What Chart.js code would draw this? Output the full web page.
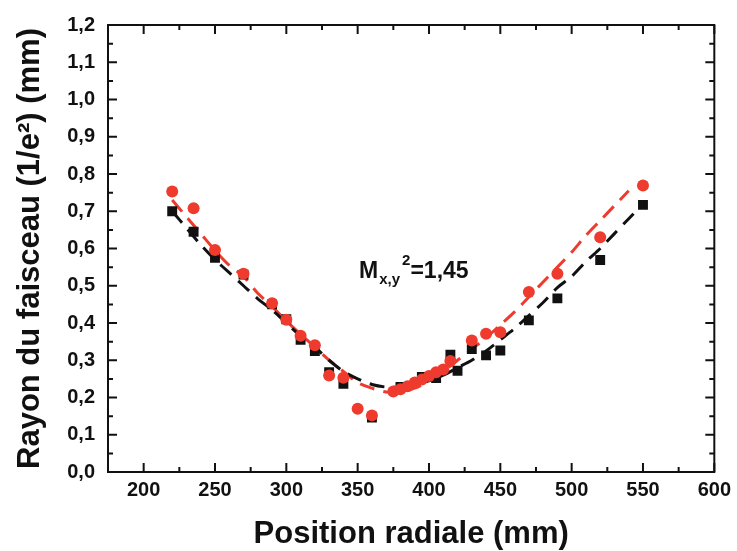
<!DOCTYPE html>
<html>
<head>
<meta charset="utf-8">
<script src="https://cdn.jsdelivr.net/npm/chart.js@4.4.0/dist/chart.umd.min.js"></script>
<style>
    html, body { margin: 0; padding: 0; background: #ffffff; }
    canvas { display: block; }
</style>
</head>
<body>
<canvas id="beamChart" width="737" height="551"></canvas>
<script>
// Measured points (black squares)
const posBlack = [220, 235, 250, 270, 290, 300, 310, 320, 330, 340, 360, 380, 395, 405, 415, 420, 430, 440, 450, 470, 490, 520, 550];
const rayonBlack = [0.70, 0.645, 0.575, 0.53, 0.45, 0.41, 0.355, 0.325, 0.268, 0.237, 0.146, 0.228, 0.255, 0.252, 0.315, 0.272, 0.330, 0.313, 0.326, 0.407, 0.466, 0.569, 0.717];

// Measured points (red circles)
const posRed = [220, 235, 250, 270, 290, 300, 310, 320, 330, 340, 350, 360, 375, 380, 385, 390, 395, 400, 405, 410, 415, 430, 440, 450, 470, 490, 520, 550];
const rayonRed = [0.753, 0.708, 0.596, 0.532, 0.453, 0.409, 0.366, 0.340, 0.259, 0.253, 0.170, 0.152, 0.216, 0.222, 0.230, 0.240, 0.248, 0.258, 0.268, 0.275, 0.298, 0.353, 0.371, 0.375, 0.483, 0.532, 0.630, 0.769];

// Fit curves
const fitBlackPos = [220, 230, 240, 250, 260, 270, 280, 290, 300, 310, 320, 330, 340, 350, 360, 370, 380, 390, 400, 410, 420, 430, 440, 450, 460, 470, 480, 490, 500, 510, 520, 530, 540, 550];
const fitBlackRayon = [0.70, 0.655, 0.61, 0.57, 0.535, 0.50, 0.465, 0.435, 0.40, 0.365, 0.335, 0.30, 0.27, 0.25, 0.235, 0.228, 0.228, 0.235, 0.245, 0.26, 0.28, 0.30, 0.325, 0.355, 0.385, 0.42, 0.455, 0.495, 0.525, 0.565, 0.60, 0.64, 0.68, 0.72];
const fitRedPos = [220, 230, 240, 250, 260, 270, 280, 290, 300, 310, 320, 330, 340, 350, 360, 370, 380, 390, 400, 410, 420, 430, 440, 450, 460, 470, 480, 490, 500, 510, 520, 530, 540];
const fitRedRayon = [0.73, 0.685, 0.64, 0.595, 0.555, 0.525, 0.48, 0.445, 0.405, 0.37, 0.335, 0.30, 0.27, 0.24, 0.225, 0.215, 0.215, 0.225, 0.245, 0.27, 0.30, 0.33, 0.36, 0.395, 0.43, 0.47, 0.51, 0.55, 0.59, 0.635, 0.675, 0.715, 0.755];

// Axis ticks
const xTickValues = [200, 250, 300, 350, 400, 450, 500, 550, 600];
const yTickValues = [0, 0.1, 0.2, 0.3, 0.4, 0.5, 0.6, 0.7, 0.8, 0.9, 1.0, 1.1, 1.2];

const RED = '#ee3b2e';
const BLACK = '#111111';

Chart.defaults.font.family = '"Liberation Sans", Arial, sans-serif';

function toPoints(xs, ys) {
    return xs.map((x, i) => ({ x: x, y: ys[i] }));
}

// Midpoints between major ticks, for the minor tick marks
function minorValues(majors, min, max) {
    const step = majors[1] - majors[0];
    const out = [];
    for (let v = majors[0] - step / 2; v <= max + 1e-9; v += step) {
        if (v >= min - 1e-9) out.push(v);
    }
    return out;
}

// Frame, inward ticks on all four sides, and the M² label
const framePlugin = {
    id: 'frameTicks',
    afterDraw(chart) {
        const { ctx, chartArea: a, scales } = chart;
        const xs = scales.x, ys = scales.y;
        ctx.save();
        ctx.strokeStyle = BLACK;
        ctx.lineWidth = 2;
        ctx.strokeRect(a.left, a.top, a.right - a.left, a.bottom - a.top);

        const drawX = (v, len) => {
            const px = xs.getPixelForValue(v);
            ctx.beginPath();
            ctx.moveTo(px, a.bottom); ctx.lineTo(px, a.bottom - len);
            ctx.moveTo(px, a.top); ctx.lineTo(px, a.top + len);
            ctx.stroke();
        };
        const drawY = (v, len) => {
            const py = ys.getPixelForValue(v);
            ctx.beginPath();
            ctx.moveTo(a.left, py); ctx.lineTo(a.left + len, py);
            ctx.moveTo(a.right, py); ctx.lineTo(a.right - len, py);
            ctx.stroke();
        };
        xTickValues.forEach(v => drawX(v, 9));
        minorValues(xTickValues, xs.min, xs.max).forEach(v => drawX(v, 5));
        yTickValues.forEach(v => drawY(v, 9));
        minorValues(yTickValues, ys.min, ys.max).forEach(v => drawY(v, 5));

        // M²x,y = 1,45
        let tx = xs.getPixelForValue(351);
        const ty = ys.getPixelForValue(0.522);
        ctx.fillStyle = BLACK;
        ctx.textBaseline = 'alphabetic';
        ctx.font = 'bold 23px "Liberation Sans", Arial, sans-serif';
        ctx.fillText('M', tx, ty);
        tx += ctx.measureText('M').width + 1;
        ctx.font = 'bold 15px "Liberation Sans", Arial, sans-serif';
        ctx.fillText('x,y', tx, ty + 6);
        const subW = ctx.measureText('x,y').width;
        ctx.fillText('2', tx + subW + 2, ty - 13);
        tx += subW + 2 + ctx.measureText('2').width;
        ctx.font = 'bold 23px "Liberation Sans", Arial, sans-serif';
        ctx.fillText('=1,45', tx, ty);
        ctx.restore();
    }
};

const chart = new Chart(document.getElementById('beamChart'), {
    type: 'scatter',
    data: {
        datasets: [
            {
                label: 'rouge',
                data: toPoints(posRed, rayonRed),
                pointStyle: 'circle',
                pointRadius: 6,
                backgroundColor: RED,
                borderColor: RED,
                borderWidth: 0
            },
            {
                label: 'noir',
                data: toPoints(posBlack, rayonBlack),
                pointStyle: 'rect',
                pointRadius: 7,
                backgroundColor: BLACK,
                borderColor: BLACK,
                borderWidth: 0
            },
            {
                label: 'fit noir',
                data: toPoints(fitBlackPos, fitBlackRayon),
                showLine: true,
                pointRadius: 0,
                borderColor: BLACK,
                borderWidth: 3,
                borderDash: [15, 9],
                tension: 0.3
            },
            {
                label: 'fit rouge',
                data: toPoints(fitRedPos, fitRedRayon),
                showLine: true,
                pointRadius: 0,
                borderColor: RED,
                borderWidth: 3,
                borderDash: [15, 9],
                tension: 0.3
            }
        ]
    },
    options: {
        responsive: false,
        animation: false,
        layout: { padding: { top: 24, right: 19, left: 0, bottom: 0 } },
        plugins: {
            legend: { display: false },
            tooltip: { enabled: false }
        },
        scales: {
            x: {
                type: 'linear',
                min: 175,
                max: 600,
                afterBuildTicks: scale => { scale.ticks = xTickValues.map(v => ({ value: v })); },
                afterFit: scale => { scale.height = 79; },
                grid: { display: false, drawTicks: false },
                border: { display: false },
                ticks: {
                    color: BLACK,
                    padding: 6,
                    maxRotation: 0,
                    font: { size: 20, weight: 'bold' }
                },
                title: {
                    display: true,
                    text: 'Position radiale (mm)',
                    color: BLACK,
                    padding: { bottom: 1 },
                    font: { size: 31, weight: 'bold', lineHeight: 1 }
                }
            },
            y: {
                type: 'linear',
                min: 0,
                max: 1.2,
                afterBuildTicks: scale => { scale.ticks = yTickValues.map(v => ({ value: v })); },
                afterFit: scale => { scale.width = 108; },
                grid: { display: false, drawTicks: false },
                border: { display: false },
                ticks: {
                    color: BLACK,
                    padding: 13,
                    font: { size: 20, weight: 'bold' },
                    callback: v => v.toFixed(1).replace('.', ',')
                },
                title: {
                    display: true,
                    text: 'Rayon du faisceau (1/e²) (mm)',
                    color: BLACK,
                    padding: { top: 15 },
                    font: { size: 31, weight: 'bold', lineHeight: 1 }
                }
            }
        }
    },
    plugins: [framePlugin]
});
</script>
</body>
</html>
